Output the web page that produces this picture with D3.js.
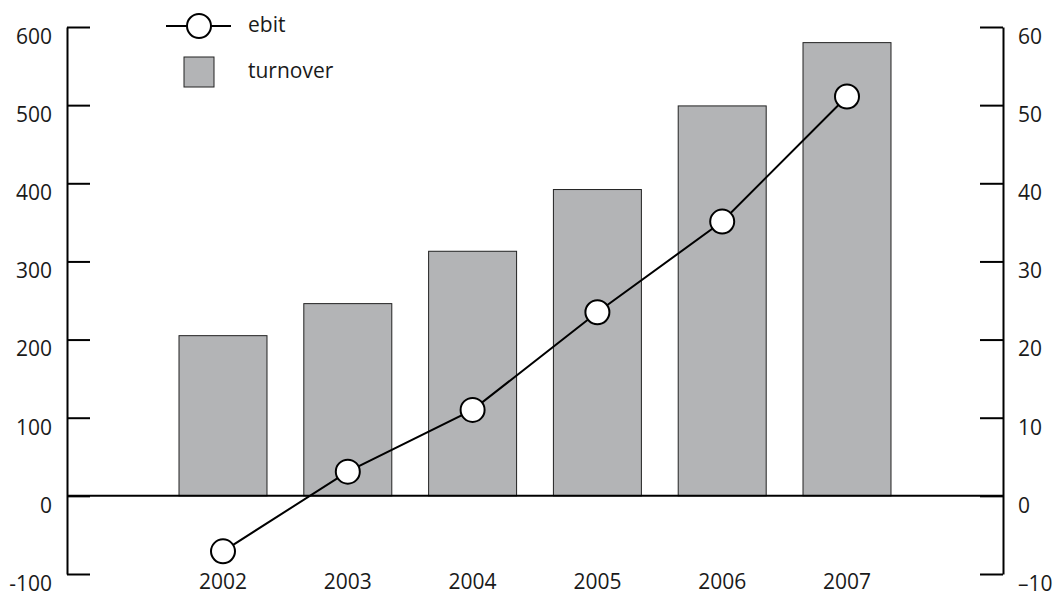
<!DOCTYPE html>
<html>
<head>
<meta charset="utf-8">
<script src="https://cdn.jsdelivr.net/npm/d3@7"></script>
<style>
    html, body { margin: 0; padding: 0; background: #fff; }
    svg text { font-family: "Open Sans", "Noto Sans", sans-serif; font-size: 21px; fill: #1a1a1a; }
</style>
</head>
<body>
<div id="chart"></div>
<script>
// ── data ──
const years = ['2002', '2003', '2004', '2005', '2006', '2007'];
const turnover = [205, 246, 313, 392, 499, 580];
const ebit = [-7.1, 3.1, 11.0, 23.5, 35.1, 51.1];
const leftTicks = [-100, 0, 100, 200, 300, 400, 500, 600];
const leftTickLabels = ['-100', '0', '100', '200', '300', '400', '500', '600'];
const rightTicks = [-10, 0, 10, 20, 30, 40, 50, 60];
const rightTickLabels = ['\u201310', '0', '10', '20', '30', '40', '50', '60'];

const width = 1057, height = 592;
const axisL = 67, axisR = 1003, plotTop = 27, plotBottom = 574;

const svg = d3.select('#chart')
    .append('svg')
    .attr('width', width)
    .attr('height', height);

const x = d3.scalePoint()
    .domain(years)
    .range([axisL, axisR])
    .padding(1.25);

const yL = d3.scaleLinear().domain([-100, 600]).range([plotBottom, plotTop]);
const yR = d3.scaleLinear().domain([-10, 60]).range([plotBottom, plotTop]);

const barW = x.step() * 0.705;

// bars
svg.append('g')
    .selectAll('rect')
    .data(years)
    .join('rect')
    .attr('x', d => x(d) - barW / 2)
    .attr('y', (d, i) => yL(turnover[i]))
    .attr('width', barW)
    .attr('height', (d, i) => yL(0) - yL(turnover[i]))
    .attr('fill', '#b3b4b6')
    .attr('stroke', '#222')
    .attr('stroke-width', 1);

// zero line
svg.append('line')
    .attr('x1', axisL).attr('x2', axisR)
    .attr('y1', yL(0)).attr('y2', yL(0))
    .attr('stroke', '#000')
    .attr('stroke-width', 2);

// axes
const leftAxis = d3.axisLeft(yL)
    .tickValues(leftTicks)
    .tickFormat((d, i) => leftTickLabels[i])
    .tickSizeInner(-23)
    .tickSizeOuter(0)
    .tickPadding(15);

const rightAxis = d3.axisRight(yR)
    .tickValues(rightTicks)
    .tickFormat((d, i) => rightTickLabels[i])
    .tickSizeInner(-23)
    .tickSizeOuter(0)
    .tickPadding(15);

const gl = svg.append('g').attr('transform', `translate(${axisL},0)`).call(leftAxis);
const gr = svg.append('g').attr('transform', `translate(${axisR},0)`).call(rightAxis);

[gl, gr].forEach(g => {
    g.attr('font-family', null).attr('font-size', null);
    g.select('.domain').attr('stroke', '#000').attr('stroke-width', 2);
    g.selectAll('.tick line').attr('stroke', '#000').attr('stroke-width', 2);
    g.selectAll('.tick text').attr('dy', '0.78em').attr('fill', '#1a1a1a');
});

// year labels
svg.append('g')
    .selectAll('text')
    .data(years)
    .join('text')
    .attr('x', d => x(d))
    .attr('y', 589)
    .attr('text-anchor', 'middle')
    .text(d => d);

// ebit line
const line = d3.line()
    .x((d, i) => x(years[i]))
    .y(d => yR(d));

svg.append('path')
    .datum(ebit)
    .attr('d', line)
    .attr('fill', 'none')
    .attr('stroke', '#000')
    .attr('stroke-width', 2);

svg.append('g')
    .selectAll('circle')
    .data(ebit)
    .join('circle')
    .attr('cx', (d, i) => x(years[i]))
    .attr('cy', d => yR(d))
    .attr('r', 12)
    .attr('fill', '#fff')
    .attr('stroke', '#000')
    .attr('stroke-width', 2);

// legend
const legend = svg.append('g');
legend.append('line')
    .attr('x1', 166).attr('x2', 231)
    .attr('y1', 26).attr('y2', 26)
    .attr('stroke', '#000').attr('stroke-width', 2);
legend.append('circle')
    .attr('cx', 199).attr('cy', 26).attr('r', 12)
    .attr('fill', '#fff').attr('stroke', '#000').attr('stroke-width', 2);
legend.append('text')
    .attr('x', 248).attr('y', 32)
    .text('ebit');
legend.append('rect')
    .attr('x', 184).attr('y', 57)
    .attr('width', 30).attr('height', 30)
    .attr('fill', '#b3b4b6')
    .attr('stroke', '#222').attr('stroke-width', 1);
legend.append('text')
    .attr('x', 248).attr('y', 78)
    .text('turnover');
</script>
</body>
</html>
